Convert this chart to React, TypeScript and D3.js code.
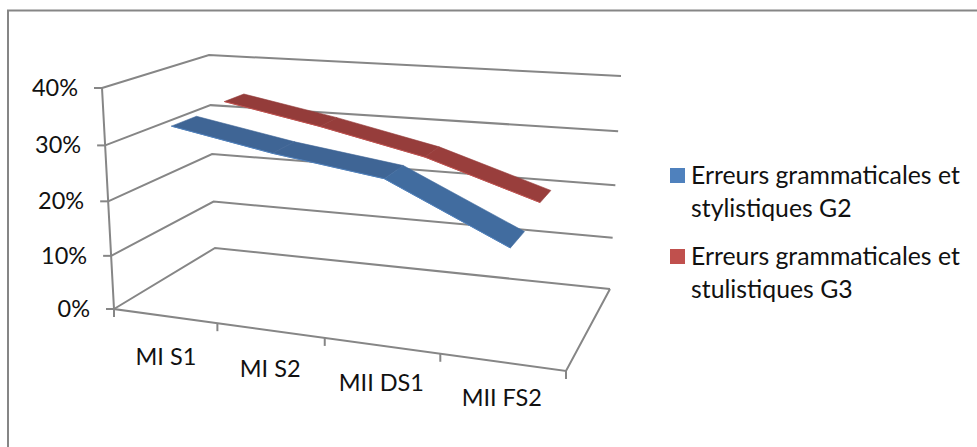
import React from "react";
import * as d3 from "d3";

const categories = ["MI S1", "MI S2", "MII DS1", "MII FS2"];
const valueTicks = [0, 10, 20, 30, 40];
const seriesG2 = [32.9, 29.7, 27.1, 17.4];
const seriesG3 = [33.6, 30.2, 26, 19.4];
const legendG2 = ["Erreurs grammaticales et", "stylistiques G2"];
const legendG3 = ["Erreurs grammaticales et", "stulistiques G3"];

type Pt = [number, number];

// Corners of the chart's box as seen on screen: front-left, front-right, back-right, back-left.
const floorCorners: Pt[] = [[114, 309], [566, 371], [610, 289], [215, 248]];
const ceilCorners: Pt[] = [[102, 88], [572, 127], [621, 76], [209, 55]];

// Homography from the unit square onto a quadrilateral.
function squareToQuad(q: Pt[]) {
  const [[x0, y0], [x1, y1], [x2, y2], [x3, y3]] = q;
  const dx1 = x1 - x2, dx2 = x3 - x2, sx = x0 - x1 + x2 - x3;
  const dy1 = y1 - y2, dy2 = y3 - y2, sy = y0 - y1 + y2 - y3;
  const det = dx1 * dy2 - dx2 * dy1;
  const g = (sx * dy2 - dx2 * sy) / det;
  const h = (dx1 * sy - sx * dy1) / det;
  const a = x1 - x0 + g * x1, b = x3 - x0 + h * x3;
  const d = y1 - y0 + g * y1, e = y3 - y0 + h * y3;
  return (u: number, z: number): Pt => {
    const w = g * u + h * z + 1;
    return [(a * u + b * z + x0) / w, (d * u + e * z + y0) / w];
  };
}

const floorAt = squareToQuad(floorCorners);
const ceilAt = squareToQuad(ceilCorners);
const heightWeight = 0.95;

const valueScale = d3.scaleLinear().domain([0, 40]).range([0, 1]);
const categoryScale = d3.scaleBand<string>().domain(categories).range([0, 1]);
// Slightly eases the foreshortening along the category axis.
const alongScale = d3.scalePow().exponent(0.96).domain([0, 1]).range([0, 1]);

// Maps along-axis position, depth and value to a screen point.
function project(u: number, z: number, v: number): Pt {
  const t = valueScale(v);
  const s0 = alongScale(u);
  const a = floorAt(s0, z), b = ceilAt(s0, z);
  const wA = 1 - t, wB = t * heightWeight, s = wA + wB;
  return [(a[0] * wA + b[0] * wB) / s, (a[1] * wA + b[1] * wB) / s];
}

const GRID = "#868686";
const poly = d3.line<Pt>();

function Ribbon({ values, z0, z1, fills, edge }: { values: number[]; z0: number; z1: number; fills: string[]; edge: string }) {
  const centers = categories.map((c) => categoryScale(c)! + categoryScale.bandwidth() / 2);
  const segs = d3.pairs(d3.zip(centers, values) as [number, number][]);
  return (
    <g>
      {segs.map(([a, b], i) => (
        <path
          key={i}
          d={poly([project(a[0], z0, a[1]), project(b[0], z0, b[1]), project(b[0], z1, b[1]), project(a[0], z1, a[1])])! + "Z"}
          fill={fills[i]}
          stroke={fills[i]}
          strokeWidth={0.6}
        />
      ))}
      <path d={poly(centers.map((c, i) => project(c, z0, values[i])))!} fill="none" stroke={edge} strokeWidth={1} />
    </g>
  );
}

function Legend({ y, color, lines }: { y: number; color: string; lines: string[] }) {
  return (
    <g>
      <rect x={670} y={y} width={15} height={15} fill={color} />
      {lines.map((l, i) => (
        <text key={l} x={691} y={y + 16 + i * 32.5} fontSize={24.8}>{l}</text>
      ))}
    </g>
  );
}

export default function App() {
  const front = d3.range(0, categories.length + 1).map((i) => i / categories.length);
  return (
    <svg width={977} height={447} style={{ position: "absolute", left: 0, top: 0, background: "#fff" }} fontFamily="Lato, Carlito, sans-serif" fill="#111">
      <path d="M8 447V10.5H977" fill="none" stroke={GRID} strokeWidth={2} />

      <g fill="none" stroke={GRID} strokeWidth={2}>
        {valueTicks.map((v) => (
          <path key={v} d={poly([project(0, 0, v), project(0, 1, v), project(1, 1, v)])!} />
        ))}
        <path d={poly([project(1, 1, 0), project(1, 0, 0), project(0, 0, 0), project(0, 0, 40)])!} />
        {valueTicks.map((v) => {
          const p = project(0, 0, v);
          return <path key={v} d={`M${p[0] - 8} ${p[1]}H${p[0]}`} />;
        })}
        {front.map((u) => {
          const p = project(u, 0, 0);
          return <path key={u} d={`M${p[0]} ${p[1]}V${p[1] + 8}`} />;
        })}
      </g>

      <Ribbon values={seriesG3} z0={0.67} z1={0.88} fills={["#943c3a", "#963d3b", "#993e3c"]} edge="#c0504d" />
      <Ribbon values={seriesG2} z0={0.16} z1={0.39} fills={["#3f6595", "#3f6595", "#416c9f"]} edge="#4f81bd" />

      {valueTicks.map((v) => {
        const p = project(0, 0, v);
        return (
          <text key={v} x={p[0] - 24} y={p[1] + 8} fontSize={23.5} textAnchor="end">{v}%</text>
        );
      })}
      {categories.map((c, i) => {
        const u = categoryScale(c)! + categoryScale.bandwidth() / 2;
        const p = project(u, 0, 0);
        return (
          <text key={c} x={p[0]} y={p[1] + 49.5 - 7 * u} fontSize={23.5} textAnchor="middle">{c}</text>
        );
      })}

      <Legend y={168} color="#4f81bd" lines={legendG2} />
      <Legend y={249} color="#c0504d" lines={legendG3} />
    </svg>
  );
}
